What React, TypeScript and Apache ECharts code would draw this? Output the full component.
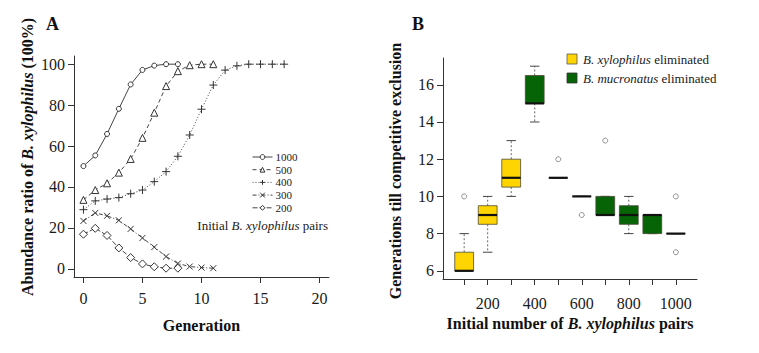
import React, { useEffect, useRef } from "react";
import * as echarts from "echarts";

const generations = [0, 1, 2, 3, 4, 5, 6, 7, 8, 9, 10, 11, 12, 13, 14, 15, 16, 17];
const pairs1000 = [50.2, 55.4, 65.9, 78.2, 90.1, 97.2, 99.3, 100, 100];
const pairs500 = [33.7, 38.5, 41.8, 47, 53.7, 64, 76.3, 89.3, 96.6, 99.5, 100, 100];
const pairs400 = [28.9, 33.2, 34.1, 34.8, 36.7, 38.5, 42.6, 47.5, 55, 65.4, 78, 89.8, 97.1, 99.2, 100, 100, 100, 100];
const pairs300 = [23.4, 27.3, 25.9, 23.7, 19.5, 15.1, 10.6, 6, 2.6, 1.1, 0.6, 0.3];
const pairs200 = [16.9, 19.8, 16.3, 10.2, 5.5, 2.4, 1, 0.3, 0.3];
const seriesNamesA = ["1000", "500", "400", "300", "200"];
const xTicksA = [0, 5, 10, 15, 20];
const yTicksA = [0, 20, 40, 60, 80, 100];

const initialPairs = [100, 200, 300, 400, 500, 600, 700, 800, 900, 1000];
const whiskerLow = [6, 7, 10, 14, 11, 10, 9, 8, 8, 8];
const q1 = [6, 8.5, 10.5, 15, 11, 10, 9, 8.5, 8, 8];
const median = [6, 9, 11, 15, 11, 10, 9, 9, 9, 8];
const q3 = [7, 9.5, 12, 16.5, 11, 10, 10, 9.5, 9, 8];
const whiskerHigh = [8, 10, 13, 17, 11, 10, 10, 10, 9, 8];
// 0 = B. xylophilus eliminated (yellow), 1 = B. mucronatus eliminated (green)
const eliminated = [0, 0, 0, 1, 1, 1, 1, 1, 1, 1];
const outliers: [number, number][] = [[100, 10], [500, 12], [600, 9], [700, 13], [1000, 10], [1000, 7]];
const xTicksB = [100, 200, 300, 400, 500, 600, 700, 800, 900, 1000];
const xLabelsB = [200, 400, 600, 800, 1000];
const yTicksB = [6, 8, 10, 12, 14, 16];

const YELLOW = "#FFD500";
const GREEN = "#066406";
const FONT = "'Liberation Serif', 'Times New Roman', serif";

export default function App() {
  const ref = useRef<HTMLDivElement>(null);
  useEffect(() => {
    if (!ref.current) return;
    const chart = echarts.init(ref.current, undefined, { renderer: "svg" });
    const toXY = (vals: number[]) => vals.map((v, i) => [generations[i], v]);
    const lineCol = "#333";
    const symbolStyle = { color: "#fff", borderColor: lineCol, borderWidth: 1 };
    const plusPath = "path://M0,-5L0,5M-5,0L5,0";
    const crossPath = "path://M-4,-4L4,4M4,-4L-4,4";

    const axisLineStyle = { show: true, onZero: false, lineStyle: { color: "#333", width: 1 } };
    const tickStyle = { show: true, inside: false, length: 6, lineStyle: { color: "#333" } };
    const labelStyle = { color: "#1a1a1a", fontSize: 16, fontFamily: FONT };

    const lineSeries = (name: string, vals: number[], symbol: string, size: number, dash: any) => ({
      type: "line",
      name,
      xAxisIndex: 0,
      yAxisIndex: 0,
      data: toXY(vals),
      symbol,
      symbolSize: size,
      showAllSymbol: true,
      lineStyle: { color: "#444", width: 1, type: dash },
      itemStyle: symbol.startsWith("path") ? { color: "none", borderColor: lineCol, borderWidth: 1 } : symbolStyle,
      emphasis: { disabled: true },
    });

    const boxData = initialPairs.map((p, i) => [p, whiskerLow[i], q1[i], median[i], q3[i], whiskerHigh[i], eliminated[i]]);

    const option: any = {
      animation: false,
      textStyle: { fontFamily: FONT },
      grid: [
        { left: 74, top: 56, width: 255, height: 221 },
        { left: 443, top: 58, width: 254, height: 221 },
      ],
      xAxis: [
        {
          type: "value", gridIndex: 0, min: -0.8, max: 20.8,
          splitLine: { show: false },
          axisLine: axisLineStyle,
          axisTick: { ...tickStyle, customValues: xTicksA },
          axisLabel: { ...labelStyle, margin: 13, customValues: xTicksA },
          name: "Generation", nameLocation: "middle", nameGap: 40,
          nameTextStyle: { fontSize: 16, fontWeight: "bold", color: "#111", fontFamily: FONT },
        },
        {
          type: "value", gridIndex: 1, min: 10, max: 1090,
          splitLine: { show: false },
          axisLine: axisLineStyle,
          axisTick: { ...tickStyle, customValues: xTicksB },
          axisLabel: { ...labelStyle, margin: 16, customValues: xLabelsB, formatter: (v: number) => String(v) },
          name: "{b|Initial number of }{bi|B. xylophilus}{b| pairs}", nameLocation: "middle", nameGap: 36,
          nameTextStyle: {
            rich: {
              b: { fontSize: 16, fontWeight: "bold", color: "#111", fontFamily: FONT },
              bi: { fontSize: 16, fontWeight: "bold", fontStyle: "italic", color: "#111", fontFamily: FONT },
            },
          },
        },
      ],
      yAxis: [
        {
          type: "value", gridIndex: 0, min: -4, max: 104,
          splitLine: { show: false },
          axisLine: axisLineStyle,
          axisTick: { ...tickStyle, customValues: yTicksA },
          axisLabel: { ...labelStyle, margin: 9, customValues: yTicksA },
        },
        {
          type: "value", gridIndex: 1, min: 5.56, max: 17.44,
          splitLine: { show: false },
          axisLine: axisLineStyle,
          axisTick: { ...tickStyle, customValues: yTicksB },
          axisLabel: { ...labelStyle, margin: 9, customValues: yTicksB },
        },
      ],
      legend: {
        data: seriesNamesA,
        orient: "vertical",
        left: 252,
        top: 151,
        itemWidth: 20,
        itemHeight: 6,
        itemGap: 0.7,
        padding: 0,
        selectedMode: false,
        lineStyle: { width: 1 },
        itemStyle: { borderWidth: 1 },
        textStyle: { fontSize: 11, fontFamily: FONT, color: "#1a1a1a", lineHeight: 12, padding: [0, 0, 0, -2] },
      },
      series: [
        lineSeries(seriesNamesA[0], pairs1000, "circle", 5, "solid"),
        lineSeries(seriesNamesA[1], pairs500, "triangle", 7, [4, 3]),
        lineSeries(seriesNamesA[2], pairs400, plusPath, 8, [1, 2]),
        lineSeries(seriesNamesA[3], pairs300, crossPath, 6, [4, 2, 1, 2]),
        lineSeries(seriesNamesA[4], pairs200, "diamond", 8, [5, 2]),
        {
          type: "custom",
          xAxisIndex: 1,
          yAxisIndex: 1,
          data: boxData,
          encode: { x: 0, y: [1, 2, 3, 4, 5] },
          renderItem: (params: any, api: any) => {
            const x = api.value(0);
            const lo = api.coord([x, api.value(1)]);
            const b1 = api.coord([x, api.value(2)]);
            const md = api.coord([x, api.value(3)]);
            const b3 = api.coord([x, api.value(4)]);
            const hi = api.coord([x, api.value(5)]);
            const w = api.size([80, 0])[0];
            const cx = lo[0];
            const fill = api.value(6) === 0 ? YELLOW : GREEN;
            const whisk = { stroke: "#666", lineWidth: 1, lineDash: [2, 2] };
            const cap = { stroke: "#444", lineWidth: 1 };
            return {
              type: "group",
              children: [
                { type: "line", shape: { x1: cx, y1: b3[1], x2: cx, y2: hi[1] }, style: whisk },
                { type: "line", shape: { x1: cx, y1: b1[1], x2: cx, y2: lo[1] }, style: whisk },
                { type: "line", shape: { x1: cx - w / 4, y1: hi[1], x2: cx + w / 4, y2: hi[1] }, style: cap },
                { type: "line", shape: { x1: cx - w / 4, y1: lo[1], x2: cx + w / 4, y2: lo[1] }, style: cap },
                {
                  type: "rect",
                  shape: { x: cx - w / 2, y: b3[1], width: w, height: b1[1] - b3[1] },
                  style: { fill, stroke: "#4a4a3a", lineWidth: 0.8 },
                },
                { type: "line", shape: { x1: cx - w / 2, y1: md[1], x2: cx + w / 2, y2: md[1] }, style: { stroke: "#111", lineWidth: 2.2 } },
              ],
            };
          },
        },
        {
          type: "scatter",
          xAxisIndex: 1,
          yAxisIndex: 1,
          data: outliers,
          symbol: "circle",
          symbolSize: 5,
          itemStyle: { color: "#fff", borderColor: "#777", borderWidth: 1 },
          z: 5,
        },
      ],
      graphic: [
        { type: "text", left: 46, top: 15, style: { text: "A", fontSize: 18, fontWeight: "bold", fontFamily: FONT, fill: "#111" } },
        { type: "text", left: 412, top: 15, style: { text: "B", fontSize: 18, fontWeight: "bold", fontFamily: FONT, fill: "#111" } },
        {
          type: "text", x: 27, y: 157, rotation: Math.PI / 2,
          style: {
            text: "{b|Abundance ratio of }{bi|B. xylophilus}{b| (100%)}",
            align: "center", verticalAlign: "middle",
            rich: {
              b: { fontSize: 16, fontWeight: "bold", fontFamily: FONT, fill: "#111" },
              bi: { fontSize: 16, fontWeight: "bold", fontStyle: "italic", fontFamily: FONT, fill: "#111" },
            },
          },
        },
        {
          type: "text", x: 395, y: 171, rotation: Math.PI / 2,
          style: {
            text: "Generations till competitive exclusion",
            align: "center", verticalAlign: "middle",
            fontSize: 16, fontWeight: "bold", fontFamily: FONT, fill: "#111",
          },
        },
        {
          type: "text", x: 328, y: 225,
          style: {
            text: "{n|Initial }{i|B. xylophilus}{n| pairs}",
            align: "right", verticalAlign: "middle",
            rich: {
              n: { fontSize: 13, fontFamily: FONT, fill: "#1a1a1a" },
              i: { fontSize: 13, fontStyle: "italic", fontFamily: FONT, fill: "#1a1a1a" },
            },
          },
        },
        { type: "rect", shape: { x: 567, y: 54, width: 10, height: 10 }, style: { fill: YELLOW, stroke: "#555", lineWidth: 0.8 } },
        { type: "rect", shape: { x: 567, y: 73, width: 10, height: 10 }, style: { fill: GREEN, stroke: "#333", lineWidth: 0.8 } },
        {
          type: "text", x: 583, y: 59,
          style: {
            text: "{i|B. xylophilus}{n| eliminated}", verticalAlign: "middle",
            rich: {
              n: { fontSize: 13, fontFamily: FONT, fill: "#1a1a1a" },
              i: { fontSize: 13, fontStyle: "italic", fontFamily: FONT, fill: "#1a1a1a" },
            },
          },
        },
        {
          type: "text", x: 583, y: 78,
          style: {
            text: "{i|B. mucronatus}{n| eliminated}", verticalAlign: "middle",
            rich: {
              n: { fontSize: 13, fontFamily: FONT, fill: "#1a1a1a" },
              i: { fontSize: 13, fontStyle: "italic", fontFamily: FONT, fill: "#1a1a1a" },
            },
          },
        },
      ],
    };
    chart.setOption(option);
    return () => chart.dispose();
  }, []);
  return (
    <div
      ref={ref}
      style={{ position: "fixed", left: 0, top: 0, width: 759, height: 353, background: "#fff" }}
    />
  );
}
